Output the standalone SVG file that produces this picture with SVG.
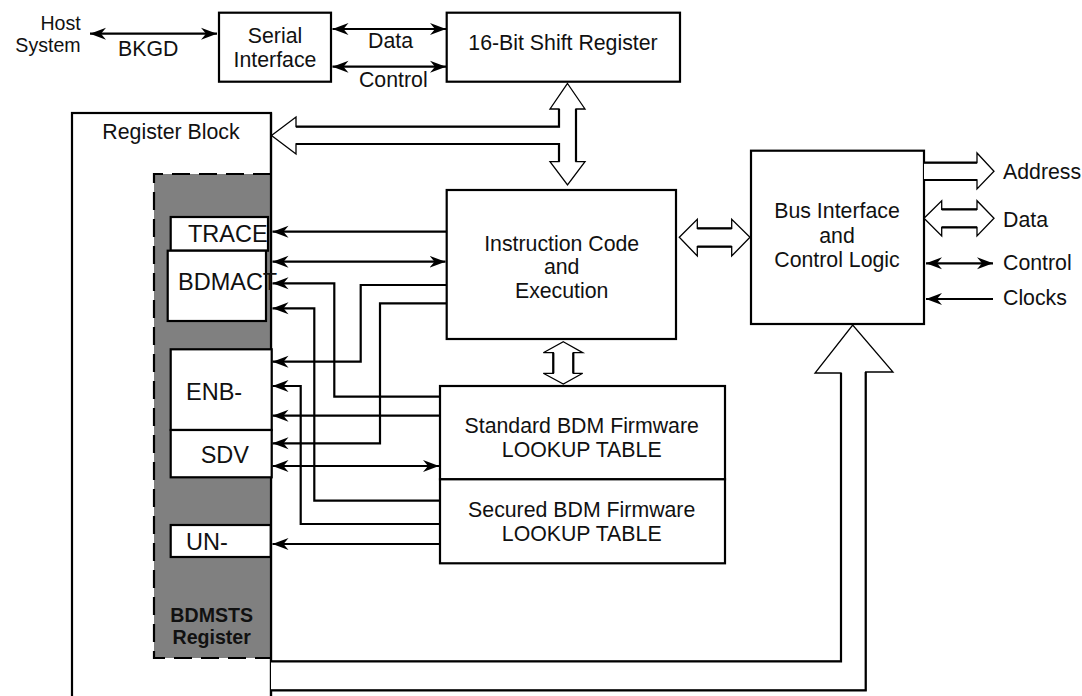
<svg xmlns="http://www.w3.org/2000/svg" width="1082" height="696" viewBox="0 0 1082 696">
<style>
text{font-family:"Liberation Sans",Arial,sans-serif;font-size:21.3px;fill:#111}
.c{text-anchor:middle}
.r{text-anchor:end}
.sm{font-size:19.6px}
.bit{font-size:23.5px}
.bold{font-weight:bold;font-size:19.6px}
.box{fill:#fff;stroke:#000;stroke-width:2.2}
.w{fill:none;stroke:#000;stroke-width:2.2}
.a{marker-end:url(#ah)}
.d{marker-start:url(#ah);marker-end:url(#ah)}
.head{fill:#fff;stroke:#000;stroke-width:1.3;stroke-linejoin:miter}
.shaft{fill:none;stroke:#000;stroke-width:2.2}
</style>
<defs>
<marker id="ah" markerUnits="userSpaceOnUse" markerWidth="17" markerHeight="13" viewBox="0 -6.5 17 13" refX="16" refY="0" orient="auto-start-reverse">
<path d="M0,-6 L16,0 L0,6 L5,0 Z" fill="#000"/>
</marker>
</defs>
<rect width="1082" height="696" fill="#fff"/>

<g id="host">
<text class="r sm" x="80.7" y="29.5">Host</text>
<text class="r sm" x="80.7" y="51.5">System</text>
</g>

<g id="serial">
<rect class="box" x="219" y="12.7" width="112" height="69"/>
<text class="c" x="275" y="42.7">Serial</text>
<text class="c" x="275" y="66.7">Interface</text>
</g>

<g id="shift">
<rect class="box" x="446.7" y="12.7" width="233.3" height="69"/>
<text class="c" x="563" y="50">16-Bit Shift Register</text>
</g>

<g id="regblock">
<rect class="box" x="72" y="113" width="199" height="600"/>
<text class="c" x="171" y="139">Register Block</text>
</g>

<g id="bdmsts">
<rect x="154" y="174" width="117" height="484" fill="#808080"/>
<path d="M271,174 H154 V658 H271" fill="none" stroke="#000" stroke-width="2.2" stroke-dasharray="18 9"/>
<line x1="271" y1="113" x2="271" y2="696" stroke="#000" stroke-width="2.2"/>
<text class="c bold" x="211.7" y="621.5">BDMSTS</text>
<text class="c bold" x="211.7" y="643.5">Register</text>
</g>

<g id="trace">
<rect class="box" x="170.7" y="217" width="97.3" height="33.7"/>
<text class="bit" x="188" y="241.7">TRACE</text>
</g>

<g id="bdmact">
<rect class="box" x="167.7" y="250.7" width="98.3" height="70.3"/>
<text class="bit" x="178" y="290">BDMACT</text>
</g>

<g id="enb">
<rect class="box" x="170.7" y="349.3" width="101" height="80.7"/>
<text class="bit" x="186" y="400">ENB-</text>
</g>

<g id="sdv">
<rect class="box" x="170.7" y="430" width="101" height="47.3"/>
<text class="bit" x="200.7" y="462.7">SDV</text>
</g>

<g id="un">
<rect class="box" x="170.7" y="525" width="100" height="32"/>
<text class="bit" x="186" y="550">UN-</text>
</g>

<g id="instr">
<rect class="box" x="446.7" y="190" width="229.3" height="149"/>
<text class="c" x="561.7" y="250.7">Instruction Code</text>
<text class="c" x="561.7" y="274">and</text>
<text class="c" x="561.7" y="297.7">Execution</text>
</g>

<g id="standard">
<rect class="box" x="440" y="386" width="285" height="93.3"/>
<text class="c" x="581.7" y="433.3">Standard BDM Firmware</text>
<text class="c" x="581.7" y="457.3">LOOKUP TABLE</text>
</g>

<g id="secured">
<rect class="box" x="440" y="479.3" width="285" height="84"/>
<text class="c" x="581.7" y="516.7">Secured BDM Firmware</text>
<text class="c" x="581.7" y="540.7">LOOKUP TABLE</text>
</g>

<g id="bus">
<rect class="box" x="751" y="150.7" width="173" height="173.3"/>
<text class="c" x="837" y="218">Bus Interface</text>
<text class="c" x="837" y="243">and</text>
<text class="c" x="837" y="267">Control Logic</text>
</g>

<g id="labels">
<text x="118" y="56">BKGD</text>
<text class="c" x="390.5" y="48">Data</text>
<text class="c" x="393.3" y="87">Control</text>
<text x="1003" y="179">Address</text>
<text x="1003" y="227">Data</text>
<text x="1003" y="270">Control</text>
<text x="1003" y="305">Clocks</text>
</g>

<g id="connectors">
<path class="w d" d="M90,33.7 H217"/>
<path class="w d" d="M332.5,29 H446"/>
<path class="w d" d="M332.5,66.7 H446"/>

<path class="w a" d="M446.7,231.7 H272.5"/>
<path class="w d" d="M272.5,261.7 H445.5"/>
<path class="w a" d="M440,396.7 H334.3 V283.3 H272.5"/>
<path class="w a" d="M446.7,285 H360.7 V361.7 H272.5"/>
<path class="w a" d="M446.7,303.3 H380 V443.3 H272.5"/>
<path class="w a" d="M440,500.7 H314.3 V308.3 H272.5"/>
<path class="w a" d="M440,524 H300.7 V386 H272.5"/>
<path class="w a" d="M440,415.7 H272.5"/>
<path class="w d" d="M272.5,466 H439"/>
<path class="w a" d="M440,544 H272.5"/>

<path class="w d" d="M926,263.3 H993"/>
<path class="w a" d="M993,299 H926"/>

<polygon class="head" points="567.5,83.5 585,109 576,109 576,161.7 585,161.7 567.5,185 550,161.7 559,161.7 559,144 296,144 296,154 271.5,135.4 296,117 296,126.7 559,126.7 559,109 550,109"/>
<path class="shaft" d="M576,109 V161.7 M559,161.7 V144 H296 M296,126.7 H559 V109"/>

<polygon class="head" points="679.3,237.3 697.3,219.3 697.3,228.3 731.7,228.3 731.7,219.3 750,237.3 731.7,256 731.7,246.7 697.3,246.7 697.3,256"/>
<path class="shaft" d="M697.3,228.3 H731.7 M697.3,246.7 H731.7"/>

<polygon class="head" points="563.3,341.7 582.7,352.7 573.3,352.7 573.3,373.3 582.7,373.3 563.3,384 543.3,373.3 553.3,373.3 553.3,352.7 543.3,352.7"/>
<path class="shaft" d="M573.3,352.7 V373.3 M553.3,352.7 V373.3"/>

<path class="head" d="M924,162.7 H977 V153 L994,171.3 L977,189 V180 H924"/>
<path class="shaft" d="M924,162.7 H977 M924,180 H977"/>

<polygon class="head" points="924,218.3 941.7,200.7 941.7,209.3 977,209.3 977,200.7 994,218.3 977,236 977,227.3 941.7,227.3 941.7,236"/>
<path class="shaft" d="M941.7,209.3 H977 M941.7,227.3 H977"/>

<path class="head" d="M271,661.3 H841 V373 H815 L852.7,325 L893,372 H865.7 V690.3 H271"/>
<path class="shaft" d="M271,661.3 H841 V373 M865.7,372 V690.3 H271"/>
</g>
</svg>
